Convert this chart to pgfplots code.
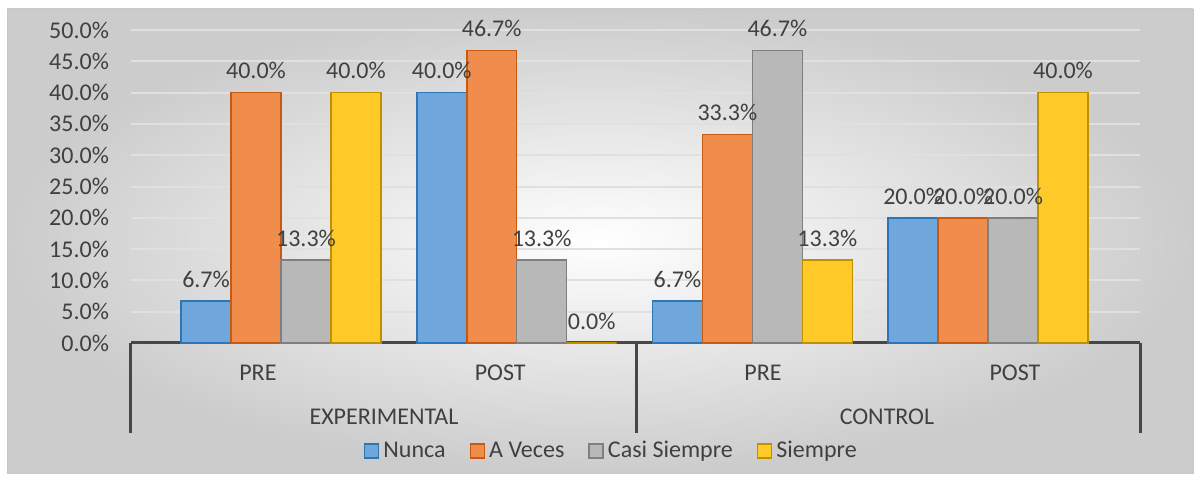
\documentclass[border=0pt]{standalone}
\usepackage{pgfplots}
\pgfplotsset{compat=1.18}
\usepackage{fontspec}
\setmainfont{Carlito}
\definecolor{txt}{HTML}{404040}
\definecolor{nuncaF}{HTML}{6FA6DB}
\definecolor{nuncaD}{HTML}{2E75B6}
\definecolor{vecesF}{HTML}{F08C4C}
\definecolor{vecesD}{HTML}{C55A11}
\definecolor{casiF}{HTML}{B8B8B8}
\definecolor{casiD}{HTML}{7F7F7F}
\definecolor{siemF}{HTML}{FFC928}
\definecolor{siemD}{HTML}{BF9000}
\pgfplotstableread{
x nunca veces casi siempre
0 6.7 40.0 13.3 40.0
1 40.0 46.7 13.3 0.0
2 6.7 33.3 46.7 13.3
3 20.0 20.0 20.0 40.0
}\datatable
\begin{document}
\begin{tikzpicture}[font=\fontsize{12}{14}\selectfont]
\fill[white] (0,0) rectangle (600pt,240.5pt);
\shade[inner color=white, outer color=black!20, draw=black!22] (3.5pt,4pt) rectangle (596.5pt,236pt);
\begin{axis}[
  at={(65.5pt,69pt)}, anchor=south west,
  scale only axis, width=504.5pt, height=156.5pt,
  xmin=-0.6364, xmax=3.6445, ymin=0, ymax=50,
  ybar=0pt, bar width=0.212,
  clip=false,
  axis x line=bottom, axis y line=left,
  axis line style={-},
  x axis line style={draw=black!72, line width=1.5pt},
  y axis line style={draw=none},
  major tick length=0pt,
  ytick={0,5,...,50},
  ymajorgrids, grid style={black!12, line width=1pt},
  yticklabel={\pgfmathprintnumber[fixed,fixed zerofill,precision=1]{\tick}\%},
  /pgf/number format/assume math mode=true,
  yticklabel style={text=txt, anchor=east, xshift=-7.5pt},
  xtick={-0.098,0.93,2.045,3.114},
  xticklabels={PRE,POST,PRE,POST},
  xticklabel style={text=txt, anchor=center, yshift=-15pt},
  nodes near coords={\pgfmathprintnumber[fixed,fixed zerofill,precision=1]{\pgfplotspointmeta}\%},
  every node near coord/.append style={text=txt, font=\fontsize{12}{14}\selectfont, yshift=3pt},
  legend columns=4,
  legend style={at={(0.477,-0.345)}, anchor=center, draw=none, fill=none,
    text=txt, /tikz/every even column/.append style={column sep=10pt}},
  legend image code/.code={\draw[#1, line width=0.8pt] (0pt,-3.5pt) rectangle (7pt,3.5pt);},
]
\addplot[fill=nuncaF, draw=nuncaD, line width=0.8pt] table[x=x,y=nunca]{\datatable};
\addplot[fill=vecesF, draw=vecesD, line width=0.8pt] table[x=x,y=veces]{\datatable};
\addplot[fill=casiF, draw=casiD, line width=0.8pt] table[x=x,y=casi]{\datatable};
\addplot[fill=siemF, draw=siemD, line width=0.8pt] table[x=x,y=siempre]{\datatable};
\legend{Nunca,A Veces,Casi Siempre,Siempre}
\draw[black!72, line width=1.5pt] (axis cs:-0.6364,0) -- ([yshift=-45pt]axis cs:-0.6364,0);
\draw[black!72, line width=1.5pt] (axis cs:1.510,0) -- ([yshift=-45pt]axis cs:1.510,0);
\draw[black!72, line width=1.5pt] (axis cs:3.6445,0) -- ([yshift=-45pt]axis cs:3.6445,0);
\node[text=txt] at ([yshift=-37pt]axis cs:0.437,0) {EXPERIMENTAL};
\node[text=txt] at ([yshift=-37pt]axis cs:2.571,0) {CONTROL};
\end{axis}
\end{tikzpicture}
\end{document}
